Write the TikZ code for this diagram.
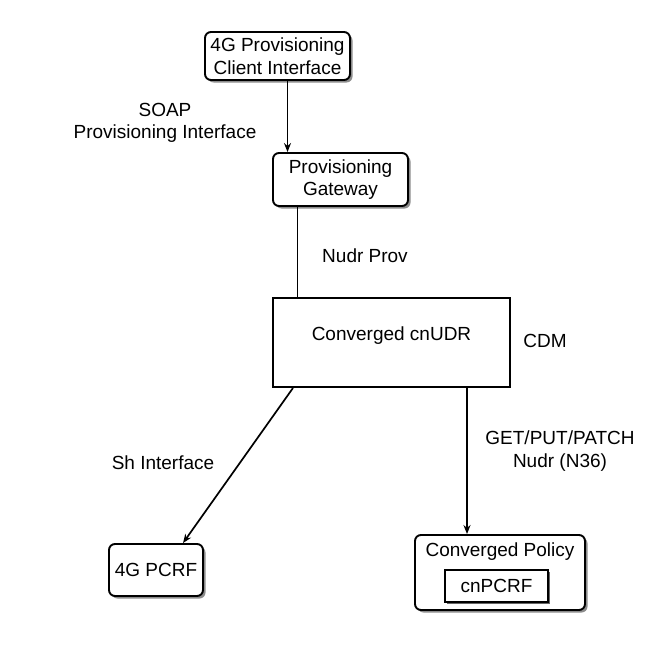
\documentclass[tikz,border=0pt]{standalone}
\usepackage{fontspec}
\setmainfont{Liberation Sans}
\usetikzlibrary{arrows.meta,shadows,calc}
\begin{document}
\begin{tikzpicture}[x=1pt,y=-1pt,
  every node/.style={font=\fontsize{19}{22.5}\selectfont},
  rbox/.style={draw,line width=1.9pt,rounded corners=6pt,fill=white,align=center,inner sep=0pt,
    drop shadow={shadow xshift=2.5pt,shadow yshift=-2.5pt,fill=black!45,opacity=1}},
  sbox/.style={draw,line width=1.9pt,fill=white,align=center,inner sep=0pt},
  arr/.style={line width=1.7pt,-{Stealth[length=9pt,width=7pt]}},
  conn/.style={line width=1.7pt},
  lbl/.style={align=center,inner sep=0pt}]
\useasboundingbox[fill=white] (0,0) rectangle (668,661);
% boxes
\node[rbox,minimum width=145pt,minimum height=48pt] (client) at (277.5,56) {4G Provisioning\\Client Interface};
\node[rbox,minimum width=135pt,minimum height=53pt] (gw) at (340.5,179.5) {Provisioning\\Gateway};
\node[sbox,minimum width=237pt,minimum height=89pt,
  label={[lbl,yshift=7pt]center:Converged cnUDR}] (udr) at (391.5,342.5) {};
\node[rbox,minimum width=94pt,minimum height=52pt] (pcrf) at (156,570) {4G PCRF};
\node[rbox,minimum width=170pt,minimum height=75pt,
  label={[lbl,yshift=21pt]center:Converged Policy}] (policy) at (500,572.5) {};
\node[sbox,minimum width=103pt,minimum height=32pt,
  drop shadow={shadow xshift=2pt,shadow yshift=-2pt,fill=black!60,opacity=1}] (cnpcrf) at (496.5,586) {cnPCRF};
% connectors
\draw[arr] ([xshift=10pt]client.south) -- ([xshift=10pt]client.south |- gw.north);
\draw[conn] ([xshift=-43pt]gw.south) -- ([xshift=-43pt]gw.south |- udr.north);
\draw[arr] ([xshift=-98.5pt]udr.south) -- ([xshift=27pt]pcrf.north);
\draw[arr] ([xshift=75.5pt]udr.south) -- ([xshift=75.5pt]udr.south |- policy.north);
% labels
\node[lbl] (soap) at (165,123) {SOAP\\Provisioning Interface};
\node[lbl] (nudrprov) at (365,256) {Nudr Prov};
\node[lbl] (cdm) at (545,341) {CDM};
\node[lbl] (sh) at (163,463) {Sh Interface};
\node[lbl] (get) at (560,451) {GET/PUT/PATCH\\Nudr (N36)};
\end{tikzpicture}
\end{document}
